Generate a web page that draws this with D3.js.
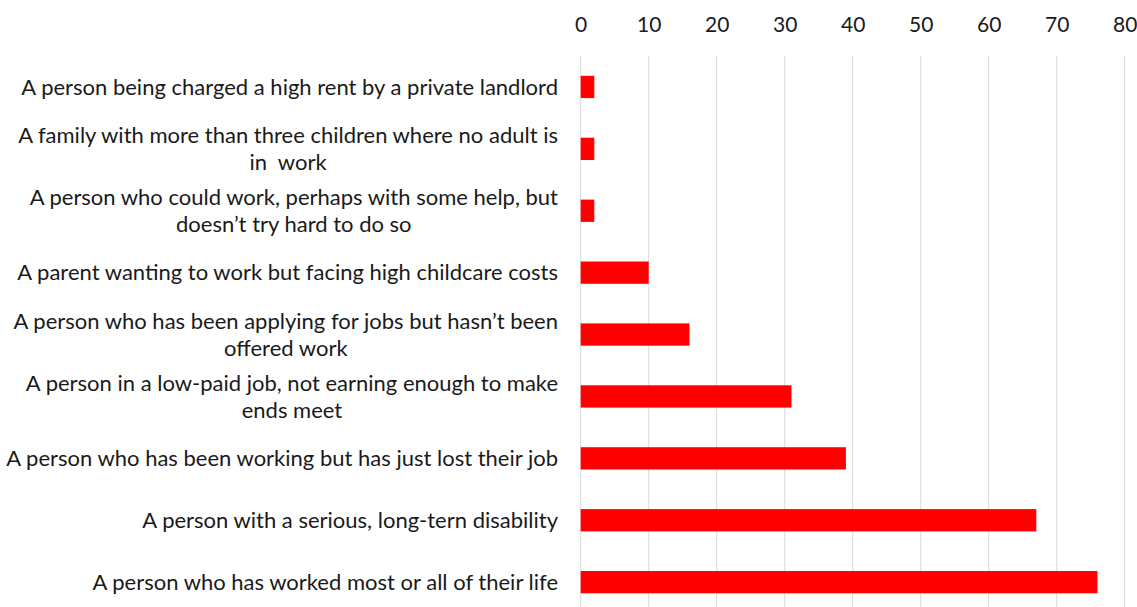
<!DOCTYPE html>
<html>
<head>
<meta charset="utf-8">
<script src="https://cdn.jsdelivr.net/npm/d3@7"></script>
<style>
  body { margin: 0; background: #fff; }
  svg { display: block; }
  text { font-family: Lato, "Open Sans", sans-serif; fill: #1a1a1a; white-space: pre; }
</style>
</head>
<body>
<svg id="chart" width="1137" height="607"></svg>
<script>
// categories, top to bottom ("\n" marks where the label wraps)
var categories = [
	'A person being charged a high rent by a private landlord',
	'A family with more than three children where no adult is\nin  work',
	'A person who could work, perhaps with some help, but\ndoesn\u2019t try hard to do so',
	'A parent wanting to work but facing high childcare costs',
	'A person who has been applying for jobs but hasn\u2019t been\noffered work',
	'A person in a low-paid job, not earning enough to make\nends meet',
	'A person who has been working but has just lost their job',
	'A person with a serious, long-tern disability',
	'A person who has worked most or all of their life'
];
var values = [2, 2, 2, 10, 16, 31, 39, 67, 76];
var tickValues = [0, 10, 20, 30, 40, 50, 60, 70, 80];

var svg = d3.select('#chart');

var x = d3.scaleLinear()
	.domain([0, 80])
	.range([580.7, 1124.7]);

var y = d3.scaleBand()
	.domain(categories)
	.range([56, 56 + 9 * 61.9])
	.paddingInner(0.64)
	.paddingOuter(0.32);

// gridlines
svg.append('g').attr('class', 'grid')
	.selectAll('line')
	.data(tickValues)
	.enter().append('line')
		.attr('x1', function(d) { return x(d); })
		.attr('x2', function(d) { return x(d); })
		.attr('y1', 56)
		.attr('y2', 607)
		.style('stroke', '#d9d9d9')
		.style('stroke-width', 1);

// top axis labels
var axis = svg.append('g')
	.attr('transform', 'translate(0,56)')
	.call(d3.axisTop(x).tickValues(tickValues).tickSize(0).tickPadding(24));
axis.select('.domain').remove();
axis.selectAll('text')
	.style('font-size', '21px')
	.style('font-family', 'Lato, "Open Sans", sans-serif')
	.attr('fill', '#1a1a1a');

// bars
svg.append('g').attr('class', 'bars')
	.selectAll('rect')
	.data(values)
	.enter().append('rect')
		.attr('x', x(0))
		.attr('y', function(d, i) { return y(categories[i]); })
		.attr('width', function(d) { return x(d) - x(0); })
		.attr('height', y.bandwidth())
		.style('fill', '#ff0000');

// category labels: right edge at 558, wrapped lines centred on the block
var labelRight = 558;
var lineHeight = 27;
var labels = svg.append('g').attr('class', 'labels');

categories.forEach(function(cat) {
	var lines = cat.split('\n');
	var cy = y(cat) + y.bandwidth() / 2;
	var g = labels.append('g');
	var texts = lines.map(function(line, j) {
		return g.append('text')
			.attr('y', cy + (j - (lines.length - 1) / 2) * lineHeight)
			.attr('dy', '0.35em')
			.style('font-size', '22px')
			.text(line);
	});
	var maxW = d3.max(texts, function(t) { return t.node().getComputedTextLength(); });
	texts.forEach(function(t) {
		t.attr('text-anchor', 'middle').attr('x', labelRight - maxW / 2);
	});
});
</script>
</body>
</html>
